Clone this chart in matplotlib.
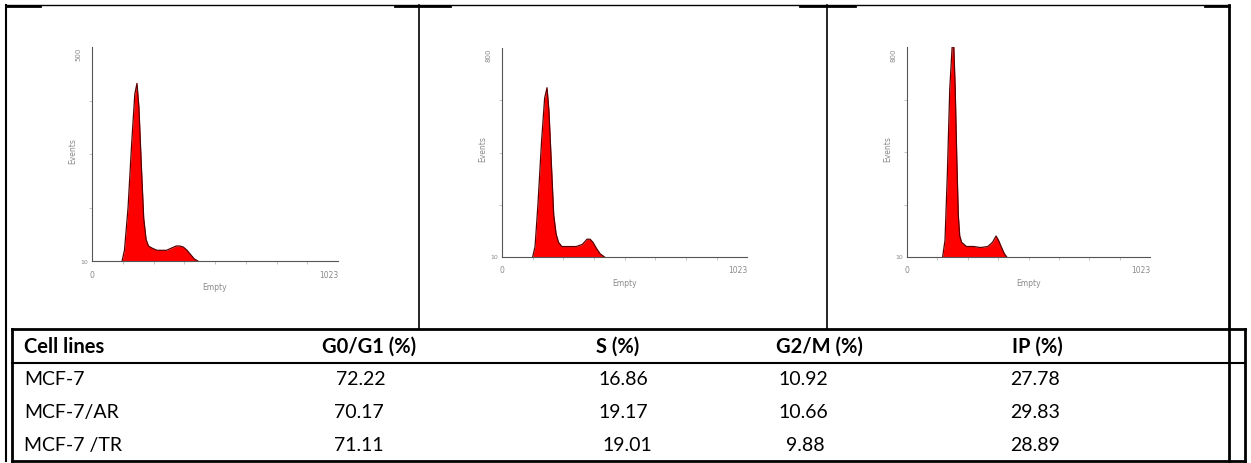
import matplotlib.pyplot as plt
import numpy as np

W, H = 1251, 464

# histogram outlines (channel, fraction of y max)
ch_mcf7 = [125, 135, 150, 165, 178, 187, 195, 205, 215, 225, 235, 250, 270, 290, 310, 330, 350, 365, 380, 395, 410, 425, 440]
ev_mcf7 = [0, 0.05, 0.25, 0.55, 0.78, 0.83, 0.72, 0.45, 0.2, 0.1, 0.07, 0.06, 0.05, 0.05, 0.05, 0.06, 0.07, 0.07, 0.065, 0.05, 0.03, 0.01, 0]

ch_ar = [128, 138, 150, 165, 178, 188, 196, 206, 216, 226, 236, 250, 280, 310, 335, 355, 368, 380, 395, 410, 428]
ev_ar = [0, 0.05, 0.25, 0.55, 0.76, 0.81, 0.7, 0.45, 0.2, 0.11, 0.07, 0.05, 0.05, 0.05, 0.06, 0.085, 0.085, 0.07, 0.04, 0.015, 0]

ch_tr = [150, 160, 170, 180, 190, 197, 203, 210, 216, 222, 230, 250, 280, 310, 340, 360, 375, 385, 400, 410, 420]
ev_tr = [0, 0.08, 0.4, 0.8, 1.0, 1.0, 0.8, 0.45, 0.2, 0.1, 0.07, 0.05, 0.05, 0.045, 0.05, 0.07, 0.1, 0.08, 0.04, 0.015, 0]

top_labels = ['500', '800', '800']

# table
headers = ['Cell lines', 'G0/G1 (%)', 'S (%)', 'G2/M (%)', 'IP (%)']
cell_lines = ['MCF-7', 'MCF-7/AR', 'MCF-7 /TR']
g0g1 = ['72.22', '70.17', '71.11']
s_phase = ['16.86', '19.17', '19.01']
g2m = ['10.92', '10.66', '9.88']
ip = ['27.78', '29.83', '28.89']

fig = plt.figure(figsize=(W / 100, H / 100), dpi=100)

# overlay axes in pixel coordinates for the borders and the table
ov = fig.add_axes([0, 0, 1, 1])
ov.set_xlim(0, W)
ov.set_ylim(H, 0)
ov.axis('off')

# frame around the histogram row
ov.plot([6, 1229], [6, 6], color='black', lw=1)
for a, b in [(6, 40), (395, 450), (800, 855), (1205, 1229)]:
    ov.plot([a, b], [6.5, 6.5], color='black', lw=2)
ov.plot([6, 6], [6, 462], color='black', lw=1.5)
ov.plot([419, 419], [6, 330], color='black', lw=1.2)
ov.plot([827, 827], [6, 330], color='black', lw=1.2)
ov.plot([1229, 1229], [6, 462], color='black', lw=2)

# table lines
ov.plot([12, 1245], [330, 330], color='black', lw=2)
ov.plot([12, 1245], [364, 364], color='black', lw=1.5)
ov.plot([12, 1245], [462, 462], color='black', lw=2)
ov.plot([12, 12], [330, 462], color='black', lw=2)
ov.plot([1245, 1245], [330, 462], color='black', lw=2)

font = ['Lato', 'DejaVu Sans']
col_x = [24, 322, 596, 776, 1012]
for x, h in zip(col_x, headers):
    ov.text(x, 347, h, fontsize=14.5, fontweight='bold', family=font, va='center', ha='left')

row_y = [380, 413, 446]
num_x = [[336, 598, 778, 1010], [334, 598, 778, 1010], [334, 602, 786, 1010]]
for i, y in enumerate(row_y):
    ov.text(24, y, cell_lines[i], fontsize=14, family=font, va='center', ha='left')
    vals = [g0g1[i], s_phase[i], g2m[i], ip[i]]
    for x, v in zip(num_x[i], vals):
        ov.text(x, y, v, fontsize=14, family=font, va='center', ha='left')

# histogram panels: (x of 0, x of 1023, y baseline, y top) in pixels
panels = [(92, 338, 262, 48), (502, 747, 258, 49), (907, 1150, 258, 48)]
data = [(ch_mcf7, ev_mcf7), (ch_ar, ev_ar), (ch_tr, ev_tr)]
grey = '#8a8a8a'
for (x0, x1, yb, yt), (ch, ev), tl in zip(panels, data, top_labels):
    ax = fig.add_axes([x0 / W, 1 - yb / H, (x1 - x0) / W, (yb - yt) / H])
    ax.set_xlim(0, 1023)
    ax.set_ylim(0, 1)
    ax.fill_between(ch, ev, color='#ff0000', lw=0)
    ax.plot(ch, ev, color='#5a0000', lw=0.9)
    for s in ['top', 'right']:
        ax.spines[s].set_visible(False)
    ax.spines['left'].set_color('#555555')
    ax.spines['bottom'].set_color('#555555')
    ax.spines['left'].set_linewidth(0.8)
    ax.spines['bottom'].set_linewidth(0.8)
    ax.set_yticks([0.25, 0.5, 0.75])
    ax.set_xticks(np.arange(128, 1023, 128))
    ax.tick_params(colors='#bbbbbb', length=2, width=0.6, labelleft=False, labelbottom=False)
    ax.patch.set_alpha(0)
    ax.text(0, -0.04, '0', ha='center', va='top', fontsize=5.5, color=grey)
    ax.text(1023, -0.04, '1023', ha='right', va='top', fontsize=5.5, color=grey)
    ax.text(-15, 0, '10', ha='right', va='center', fontsize=4.5, color=grey)
    ax.text(-55, 1, tl, ha='center', va='top', fontsize=5, color=grey, rotation=90)
    ax.text(-80, 0.52, 'Events', ha='center', va='center', fontsize=5.5, color=grey, rotation=90)
    ax.text(511, -0.1, 'Empty', ha='center', va='top', fontsize=5.5, color=grey)

fig.savefig('out.png', dpi=100)
